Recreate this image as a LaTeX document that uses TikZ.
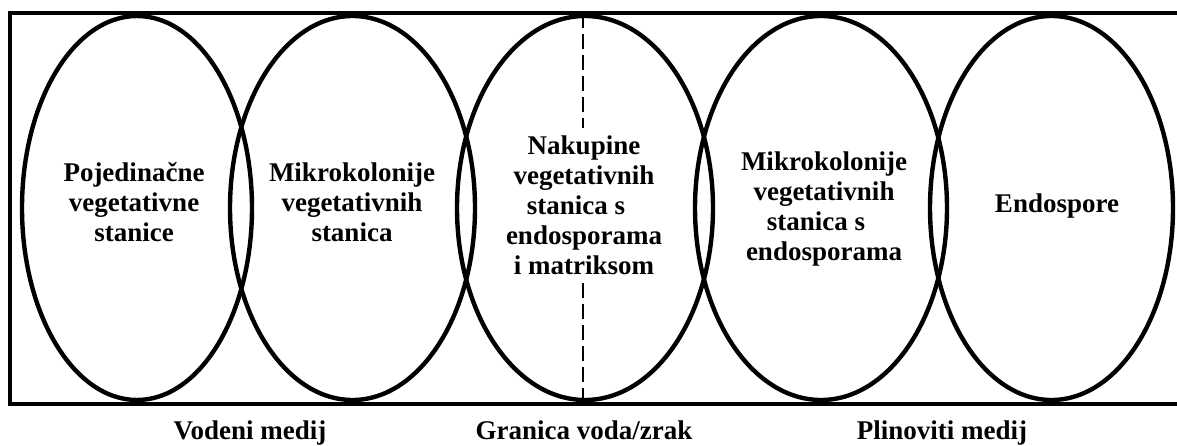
\documentclass[tikz,border=0pt]{standalone}
\usepackage{fontspec}
\setmainfont{Liberation Serif}
\usetikzlibrary{shapes.geometric}
\newcommand{\celllines}[1]{\begin{tabular}[t]{@{}c@{}}#1\end{tabular}}
\tikzset{
  cell/.style={draw=black, line width=4.4pt, shape=ellipse, inner sep=0pt},
  frameline/.style={draw=black, line width=4.2pt},
  divider/.style={draw=black, line width=2.6pt, dash pattern=on 15pt off 6pt},
  lbl/.style={inner sep=0pt, anchor=base, font=\fontsize{27}{30}\selectfont\bfseries},
}
\begin{document}
\begin{tikzpicture}[x=1pt,y=-1pt]
\useasboundingbox (0,0) rectangle (1177,446);
\clip (0,0) rectangle (1177,446);
% frame (right side lies outside the picture)
\coordinate (ftr) at (1190,13);
\coordinate (ftl) at (10,13);
\coordinate (fbl) at (10,404);
\coordinate (fbr) at (1190,404);
\draw[frameline] (ftr) -- (ftl) -- (fbl) -- (fbr);
% ellipses
\node[cell, minimum width=230pt, minimum height=384pt] (e1) at (137,208) {};
\node[cell, minimum width=245pt, minimum height=384pt] (e2) at (352.5,208) {};
\node[cell, minimum width=256pt, minimum height=384pt] (e3) at (585,208) {};
\node[cell, minimum width=252pt, minimum height=384pt] (e4) at (821,208) {};
\node[cell, minimum width=243pt, minimum height=384pt] (e5) at (1051.5,208) {};
% texts
\node[lbl] (t1) at (134,182) {\celllines{Pojedinačne\\vegetativne\\stanice}};
\node[lbl] (t2) at (352,182) {\celllines{Mikrokolonije\\vegetativnih\\stanica}};
\node[lbl] (t3) at (584,155) {\celllines{Nakupine\\vegetativnih\\stanica s\hspace*{16pt}\\endosporama\\i matriksom}};
\node[lbl] (t4) at (824,171) {\celllines{Mikrokolonije\\vegetativnih\\stanica s\hspace*{16pt}\\endosporama}};
\node[lbl] (t5) at (1057,213) {Endospore};
% dashed boundary
\coordinate (d1) at (583,13);
\coordinate (d2) at (583,128);
\coordinate (d3) at (583,283);
\coordinate (d4) at (583,404);
\draw[divider] (d1) -- (d2);
\draw[divider] (d3) -- (d4);
% bottom labels
\node[lbl] (b1) at (250,439) {Vodeni medij};
\node[lbl] (b2) at (584,439) {Granica voda/zrak};
\node[lbl] (b3) at (942,439) {Plinoviti medij};
\end{tikzpicture}
\end{document}
